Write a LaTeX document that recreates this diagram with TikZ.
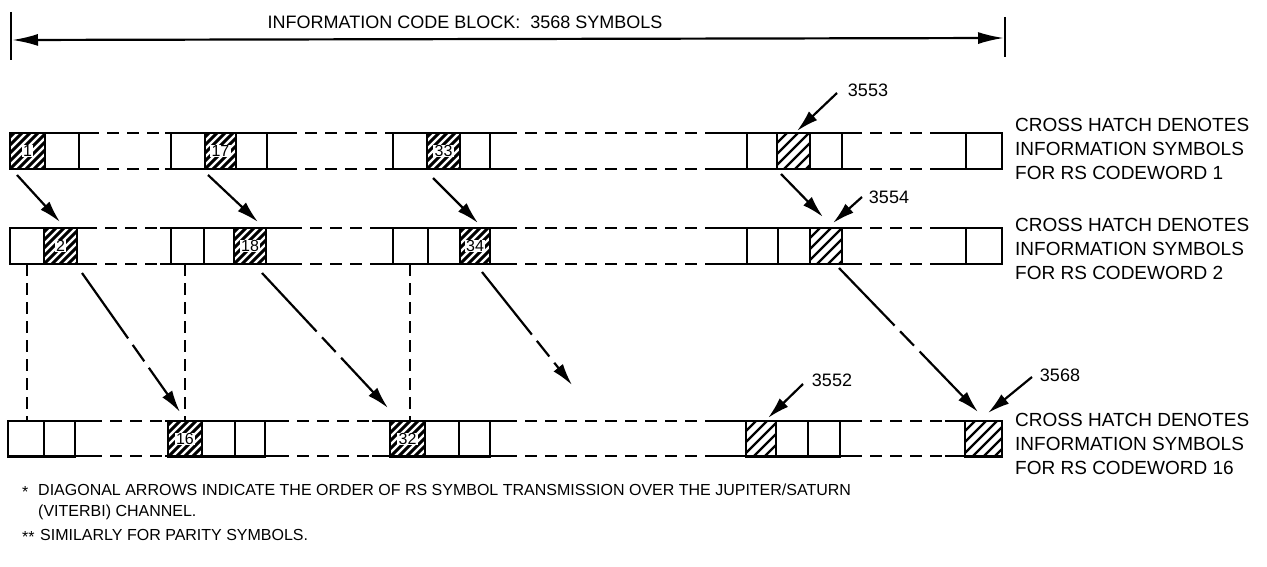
\documentclass[tikz,border=0pt]{standalone}
\usepackage{fontspec}
\setmainfont{Liberation Sans}
\usetikzlibrary{arrows.meta,calc}
\newcommand{\mycell}[5]{\pgfmathsetmacro\cw{#3-#2}\node[#5, minimum width=\cw pt] (#1) at (#2,#4) {};}
\newcommand{\myrow}[3]{%
  \foreach \a/\b in {#2} {\draw[rowline] (\a,#1) -- (\b,#1);}
  \foreach \a/\b in {#3} {\draw[dashline] (\a,#1) -- (\b,#1);}}
% hatch a named cell: name, spacing, line width
\newcommand{\hatchit}[3]{%
  \pgfmathsetmacro\hsec{-48+#2}%
  \begin{scope}
    \clip (#1.south west) rectangle (#1.north east);
    \foreach \k in {-48,\hsec,...,48} {\draw[line width=#3] ($(#1.south west)+(\k,0)$) -- ++(60,-60);}
  \end{scope}
  \draw[line width=2.2pt] (#1.south west) rectangle (#1.north east);}
\begin{document}
\begin{tikzpicture}[x=1pt,y=-1pt,
  cellbox/.style={draw, line width=2.2pt, anchor=north west, minimum height=36pt, inner sep=0pt, outer sep=0pt},
  plain/.style={cellbox},
  numlbl/.style={fill=white, text=black, inner xsep=1.2pt, inner ysep=0.8pt, font=\fontsize{16}{16}\selectfont},
  rowline/.style={line width=2.2pt},
  dashline/.style={line width=2pt, dash pattern=on 12pt off 8pt},
  arr/.style={line width=2.2pt, -{Latex[length=22pt,width=12pt]}},
  longarr/.style={arr, dash pattern=on 80pt off 8pt on 20pt off 8pt on 400pt},
  vdash/.style={line width=2pt, dash pattern=on 12pt off 7pt},
  lbl/.style={anchor=west, inner sep=0pt, align=left, font=\fontsize{19}{24}\selectfont},
  tag/.style={inner sep=0pt, font=\fontsize{18}{18}\selectfont},
  note/.style={anchor=west, inner sep=0pt, font=\fontsize{16}{16}\selectfont},
]
\useasboundingbox[fill=white] (0,0) rectangle (1267,567);

% ---------- top dimension arrow ----------
\coordinate (lbt) at (11,12); \coordinate (lbb) at (11,60);
\coordinate (rbt) at (1005,17); \coordinate (rbb) at (1005,57);
\draw[line width=2.2pt] (lbt) -- (lbb) (rbt) -- (rbb);
\coordinate (L) at (12,40); \coordinate (R) at (1004,38);
\draw[line width=2.2pt, {Latex[length=26pt,width=12pt]}-{Latex[length=26pt,width=12pt]}] (L) -- (R);
\node[font=\fontsize{18}{18}\selectfont, inner sep=0pt] (title) at (465,22) {INFORMATION CODE BLOCK:\ \ 3568 SYMBOLS};

% ---------- row lines ----------
\myrow{133}{10/87,165/285,385/505,710/850,940/1002}{87/165,285/385,505/710,850/940}
\myrow{169}{10/87,165/285,385/505,710/850,940/1002}{87/165,285/385,505/710,850/940}
\myrow{228}{10/85,160/290,382/505,715/850,940/1002}{85/160,290/382,505/715,850/940}
\myrow{264}{10/85,160/290,382/505,715/850,940/1002}{85/160,290/382,505/715,850/940}
\myrow{421}{8/90,165/277,372/505,707/850,945/1002}{90/165,277/372,505/707,850/945}
\myrow{456}{8/90,165/277,372/505,707/850,945/1002}{90/165,277/372,505/707,850/945}

% ---------- row 1 cells ----------
\mycell{c1}{10}{45}{133}{plain}
\mycell{p1a}{45}{79}{133}{plain}
\mycell{p1b}{171}{205}{133}{plain}
\mycell{c17}{205}{236}{133}{plain}
\mycell{p1c}{236}{267}{133}{plain}
\mycell{p1d}{393}{427}{133}{plain}
\mycell{c33}{427}{460}{133}{plain}
\mycell{p1e}{460}{490}{133}{plain}
\mycell{p1f}{747}{777}{133}{plain}
\mycell{c3553}{777}{810}{133}{plain}
\mycell{p1g}{810}{842}{133}{plain}
\mycell{p1h}{966}{1002}{133}{plain}

% ---------- row 2 cells ----------
\mycell{p2a}{10}{44}{228}{plain}
\mycell{c2}{44}{77}{228}{plain}
\mycell{p2b}{171}{204}{228}{plain}
\mycell{p2c}{204}{234}{228}{plain}
\mycell{c18}{234}{266}{228}{plain}
\mycell{p2d}{393}{428}{228}{plain}
\mycell{p2e}{428}{460}{228}{plain}
\mycell{c34}{460}{490}{228}{plain}
\mycell{p2f}{747}{778}{228}{plain}
\mycell{p2g}{778}{810}{228}{plain}
\mycell{c3554}{810}{842}{228}{plain}
\mycell{p2h}{966}{1002}{228}{plain}

% ---------- row 3 cells ----------
\mycell{p3a}{8}{44}{421}{plain}
\mycell{p3b}{44}{75}{421}{plain}
\mycell{c16}{168}{202}{421}{plain}
\mycell{p3c}{202}{235}{421}{plain}
\mycell{p3d}{235}{265}{421}{plain}
\mycell{c32}{390}{425}{421}{plain}
\mycell{p3e}{425}{459}{421}{plain}
\mycell{p3f}{459}{490}{421}{plain}
\mycell{c3552}{746}{776}{421}{plain}
\mycell{p3g}{776}{808}{421}{plain}
\mycell{p3h}{808}{840}{421}{plain}
\mycell{c3568}{965}{1002}{421}{plain}

% ---------- hatching ----------
\foreach \c in {c1,c17,c33,c2,c18,c34,c16,c32} {\hatchit{\c}{8}{3pt}}
\foreach \c in {c3553,c3554,c3552,c3568} {\hatchit{\c}{11}{2.4pt}}
\node[numlbl] (n1) at (c1) {1};
\node[numlbl] (n17) at (c17) {17};
\node[numlbl] (n33) at (c33) {33};
\node[numlbl] (n2) at (c2) {2};
\node[numlbl] (n18) at (c18) {18};
\node[numlbl] (n34) at (c34) {34};
\node[numlbl] (n16) at (c16) {16};
\node[numlbl] (n32) at (c32) {32};

% ---------- vertical dashed links ----------
\coordinate (v1t) at (27,264); \coordinate (v1b) at (27,421);
\coordinate (v2t) at (185,264); \coordinate (v2b) at (185,421);
\coordinate (v3t) at (410,264); \coordinate (v3b) at (410,421);
\draw[vdash] (v1t) -- (v1b);
\draw[vdash] (v2t) -- (v2b);
\draw[vdash] (v3t) -- (v3b);

% ---------- short arrows row 1 -> row 2 ----------
\coordinate (t1) at (17,175);   \coordinate (h1) at (60,222);
\coordinate (t17) at (208,175); \coordinate (h17) at (258,222);
\coordinate (t33) at (433,178); \coordinate (h33) at (478,223);
\coordinate (tq) at (781,174);  \coordinate (hq) at (823,217);
\draw[arr] (t1) -- (h1);
\draw[arr] (t17) -- (h17);
\draw[arr] (t33) -- (h33);
\draw[arr] (tq) -- (hq);

% ---------- long arrows row 2 -> row 3 ----------
\coordinate (tA) at (82,273);  \coordinate (hA) at (180,412);
\coordinate (tB) at (262,273); \coordinate (hB) at (388,408);
\coordinate (tC) at (482,272); \coordinate (hC) at (572,385);
\coordinate (tD) at (839,268); \coordinate (hD) at (978,412);
\draw[longarr] (tA) -- (hA);
\draw[longarr] (tB) -- (hB);
\draw[longarr] (tC) -- (hC);
\draw[longarr] (tD) -- (hD);

% ---------- numbered pointers ----------
\node[tag] (l3553) at (868,90) {3553};
\node[tag] (l3554) at (889,197) {3554};
\node[tag] (l3552) at (832,380) {3552};
\node[tag] (l3568) at (1060,375) {3568};
\coordinate (p53t) at (837,93);   \coordinate (p53h) at (797,131);
\coordinate (p54t) at (862,197);  \coordinate (p54h) at (833,223);
\coordinate (p52t) at (803,384);  \coordinate (p52h) at (768,418);
\coordinate (p68t) at (1032,377); \coordinate (p68h) at (988,413);
\draw[arr] (p53t) -- (p53h);
\draw[arr] (p54t) -- (p54h);
\draw[arr] (p52t) -- (p52h);
\draw[arr] (p68t) -- (p68h);

% ---------- right labels ----------
\node[lbl] (r1) at (1015,149) {CROSS HATCH DENOTES\\INFORMATION SYMBOLS\\FOR RS CODEWORD 1};
\node[lbl] (r2) at (1015,249) {CROSS HATCH DENOTES\\INFORMATION SYMBOLS\\FOR RS CODEWORD 2};
\node[lbl] (r3) at (1015,444) {CROSS HATCH DENOTES\\INFORMATION SYMBOLS\\FOR RS CODEWORD 16};

% ---------- footnotes ----------
\node[note] (s1) at (22,492) {*};
\node[note] (f1) at (38,490) {DIAGONAL ARROWS INDICATE THE ORDER OF RS SYMBOL TRANSMISSION OVER THE JUPITER/SATURN};
\node[note] (f2) at (38,512) {(VITERBI) CHANNEL.};
\node[note] (s2) at (22,537) {**};
\node[note] (f3) at (40,535) {SIMILARLY FOR PARITY SYMBOLS.};
\end{tikzpicture}
\end{document}
